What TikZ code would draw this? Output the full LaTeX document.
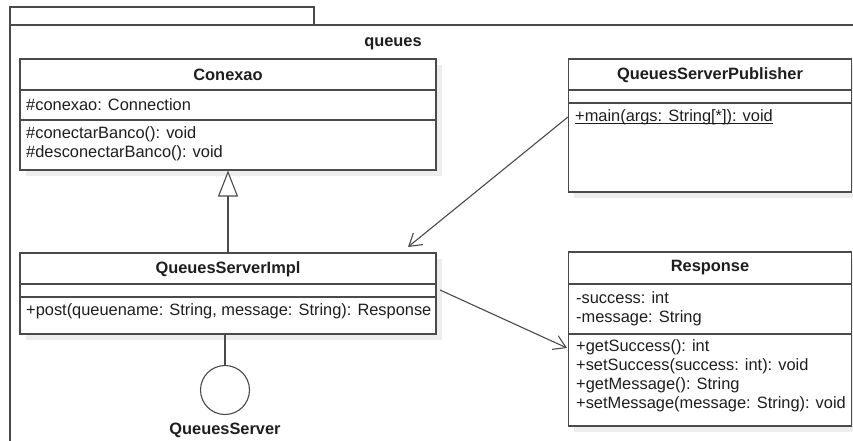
\documentclass[tikz,border=0pt]{standalone}
\usepackage{fontspec}
\setmainfont{Liberation Sans}
\usetikzlibrary{arrows.meta}

\definecolor{edge}{HTML}{4A4A4A}
\definecolor{ink}{HTML}{1E1E1E}
\definecolor{shade}{HTML}{EDEDED}

% underline drawn just below the baseline (static members)
\newlength\staticulw
\newcommand\staticul[1]{\settowidth{\staticulw}{#1}\rlap{\rule[-2.2pt]{\staticulw}{0.9pt}}#1}

\begin{document}
\begin{tikzpicture}[x=1pt, y=-1pt,
  every node/.style={text=ink, font=\fontsize{16.4}{19}\selectfont},
  ln/.style={draw=edge, line width=1.1pt},
  cls/.style={ln, fill=white, rectangle, inner sep=0pt},
  shadowbox/.style={fill=shade, draw=none},
  title/.style={font=\fontsize{16.4}{19}\selectfont\bfseries, inner sep=0pt},
  member/.style={anchor=west, align=left, inner sep=0pt},
  assoc/.style={draw=edge, line width=1.1pt, -{Straight Barb[length=12pt, width=15pt, line width=1.1pt]}},
  inherit/.style={draw=edge, line width=1.1pt, -{Triangle[open, length=26pt, width=20pt, fill=white, line width=1.1pt]}}
]
\useasboundingbox (0,0) rectangle (853,441);
\clip (0,0) rectangle (853,441);
\fill[white] (0,0) rectangle (853,441);

% package frame with its tab
\draw[ln] (10,7) rectangle (314,25);
\draw[ln] (10,460) -- (10,25) -- (870,25);
\node[title] (pkg) at (393,44) {queues};

% drop shadows under the classes
\fill[shadowbox] (26,65) rectangle (442,176);
\fill[shadowbox] (574,65) rectangle (858,198);
\fill[shadowbox] (26,259) rectangle (442,340);
\fill[shadowbox] (574,258) rectangle (858,432);

% class Conexao
\node[cls, minimum width=416pt, minimum height=111pt] (conexao) at (228,114.5) {};
\draw[ln] (conexao.west |- 0,90) -- (conexao.east |- 0,90);
\draw[ln] (conexao.west |- 0,120) -- (conexao.east |- 0,120);
\node[title] (conexaoT) at (228,75) {Conexao};
\node[member] (conexaoA) at (26,105) {\#conexao: Connection};
\node[member] (conexaoM) at (26,143.5) {\#conectarBanco(): void\\\#desconectarBanco(): void};

% class QueuesServerPublisher
\node[cls, minimum width=283pt, minimum height=133pt] (pub) at (710,125.5) {};
\draw[ln] (pub.west |- 0,90) -- (pub.east |- 0,90);
\draw[ln] (pub.west |- 0,103) -- (pub.east |- 0,103);
\node[title] (pubT) at (710,75) {QueuesServerPublisher};
\node[member] (pubM) at (575,117) {\staticul{+main(args: String[*]): void}};

% class QueuesServerImpl
\node[cls, minimum width=416pt, minimum height=81pt] (impl) at (228,293.5) {};
\draw[ln] (impl.west |- 0,284) -- (impl.east |- 0,284);
\draw[ln] (impl.west |- 0,297) -- (impl.east |- 0,297);
\node[title] (implT) at (228,269) {QueuesServerImpl};
\node[member] (implM) at (26,311) {+post(queuename: String, message: String): Response};

% class Response
\node[cls, minimum width=283pt, minimum height=174pt] (resp) at (710,339) {};
\draw[ln] (resp.west |- 0,284) -- (resp.east |- 0,284);
\draw[ln] (resp.west |- 0,334) -- (resp.east |- 0,334);
\node[title] (respT) at (710,268) {Response};
\node[member] (respA) at (576,308.5) {-success: int\\-message: String};
\node[member] (respM) at (576,375.5) {+getSuccess(): int\\+setSuccess(success: int): void\\+getMessage(): String\\+setMessage(message: String): void};

% provided interface QueuesServer
\node[ln, circle, fill=white, minimum size=49pt, inner sep=0pt] (iface) at (225,390) {};
\node[title] (ifaceT) at (225,430) {QueuesServer};
\draw[ln] (iface.north) -- (iface.north |- impl.south);

% generalization Impl -> Conexao
\draw[inherit] (impl.north) -- (conexao.south);

% associations
\coordinate (pubTip) at (408,247);
\coordinate (implOut) at (440,290);
\coordinate (respIn) at (567,348);
\draw[assoc] (pub.west |- pubM.west) -- (pubTip);
\draw[assoc] (implOut) -- (respIn);
\end{tikzpicture}
\end{document}
